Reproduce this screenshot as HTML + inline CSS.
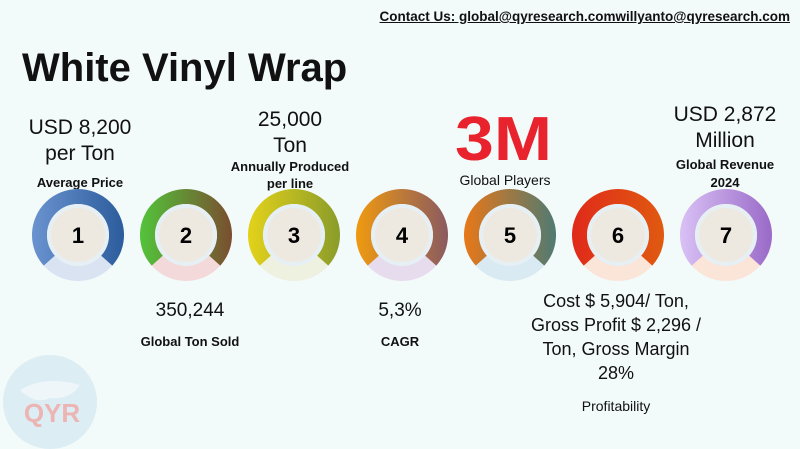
<!DOCTYPE html>
<html><head><meta charset="utf-8"><style>
html,body{margin:0;padding:0}
body{width:800px;height:449px;background:#f3fafa;position:relative;overflow:hidden;font-family:"Liberation Sans",Arial,sans-serif;color:#111}
.t{position:absolute;text-align:center;white-space:nowrap}
.b{font-weight:bold}
</style></head><body>
<svg style="position:absolute;left:0;top:350px" width="110" height="99">
<circle cx="50" cy="52" r="47" fill="#d6eaf3" opacity="0.8"/>
<path d="M20 40 Q45 25 80 35 Q70 50 50 48 Q35 55 20 40Z" fill="#eef6fa"/>
<text x="52" y="72" text-anchor="middle" font-family="Liberation Sans" font-weight="bold" font-size="26" fill="#f0a8a4" opacity="0.8">QYR</text>
</svg>
<div class="t b" style="right:10px;top:9px;font-size:13.5px;text-decoration:underline">Contact Us: global@qyresearch.comwillyanto@qyresearch.com</div>
<div class="t b" style="left:22px;top:46px;font-size:40px">White Vinyl Wrap</div>

<div class="t" style="left:10px;width:140px;top:115px;font-size:21px;line-height:26px">USD 8,200<br>per Ton</div>
<div class="t b" style="left:10px;width:140px;top:175px;font-size:13px">Average Price</div>

<div class="t" style="left:220px;width:140px;top:107px;font-size:21px;line-height:26px">25,000<br>Ton</div>
<div class="t b" style="left:210px;width:160px;top:158px;font-size:13px;line-height:17px">Annually Produced<br>per line</div>

<svg style="position:absolute;left:455px;top:108px" width="100" height="56">
<text x="0" y="52" textLength="97" lengthAdjust="spacingAndGlyphs" font-family="Liberation Sans" font-weight="bold" font-size="62" fill="#e8232d">3M</text>
</svg>
<div class="t" style="left:440px;width:130px;top:172px;font-size:14px">Global Players</div>

<div class="t" style="left:640px;width:170px;top:102px;font-size:21px;line-height:26px">USD 2,872<br>Million</div>
<div class="t b" style="left:640px;width:170px;top:156px;font-size:13px;line-height:18px">Global Revenue<br>2024</div>

<svg id="rings" style="position:absolute;left:0;top:0" width="800" height="449"></svg>

<div class="t" style="left:120px;width:140px;top:300px;font-size:19px">350,244</div>
<div class="t b" style="left:120px;width:140px;top:334px;font-size:13px">Global Ton Sold</div>
<div class="t" style="left:340px;width:120px;top:300px;font-size:19px">5,3%</div>
<div class="t b" style="left:340px;width:120px;top:334px;font-size:13px">CAGR</div>
<div class="t" style="left:506px;width:220px;top:289px;font-size:18px;line-height:24px">Cost $ 5,904/ Ton,<br>Gross Profit $ 2,296 /<br>Ton, Gross Margin<br>28%</div>
<div class="t" style="left:556px;width:120px;top:398px;font-size:14px">Profitability</div>

<script>
const steps=["1","2","3","4","5","6","7"];
const colA=["#6a93cf","#52c43a","#e3d21a","#f09a10","#e87818","#e02a1a","#d9c1f5"];
const colB=["#2c5c9c","#7a4e30","#8a9c2a","#8a5a60","#4f7a72","#e05a10","#9a6ac8"];
const capCol=["#d9e3f2","#f3d9d9","#eef0e0","#e6dcee","#d9eaf2","#fbe4d8","#fbe4d8"];
const svg=document.getElementById('rings');
const NS="http://www.w3.org/2000/svg";
const x0=78,dx=108,cy=235,R=46,r=31;
function pt(a,rad,cx){return [cx+rad*Math.sin(a),cy-rad*Math.cos(a)];}
const defs=document.createElementNS(NS,'defs');svg.appendChild(defs);
steps.forEach((s,i)=>{
 const cx=x0+i*dx;
 const g=document.createElementNS(NS,'linearGradient');g.id='g'+i;
 g.innerHTML=`<stop offset="0" stop-color="${colA[i]}"/><stop offset="1" stop-color="${colB[i]}"/>`;
 defs.appendChild(g);
 const grp=document.createElementNS(NS,'g');
 
 
 const cap=document.createElementNS(NS,'circle');
 cap.setAttribute('cx',cx);cap.setAttribute('cy',cy);cap.setAttribute('r',R);cap.setAttribute('fill',capCol[i]);
 grp.appendChild(cap);
 const a1=-2.3,a2=2.3;
 const p1=pt(a1,R,cx),p2=pt(a2,R,cx),p3=pt(a2,r,cx),p4=pt(a1,r,cx);
 const arc=document.createElementNS(NS,'path');
 arc.setAttribute('d',`M${p1} A${R} ${R} 0 1 1 ${p2} L${p3} A${r} ${r} 0 1 0 ${p4}Z`);
 arc.setAttribute('fill',`url(#g${i})`);
 grp.appendChild(arc);
 const inner=document.createElementNS(NS,'circle');
 inner.setAttribute('cx',cx);inner.setAttribute('cy',cy);inner.setAttribute('r',r-2);
 inner.setAttribute('fill','#eee9e0');inner.setAttribute('stroke','#e6f0f4');inner.setAttribute('stroke-width','4');
 grp.appendChild(inner);
 const t=document.createElementNS(NS,'text');
 t.setAttribute('x',cx);t.setAttribute('y',cy+8);t.setAttribute('text-anchor','middle');
 t.setAttribute('font-family','Liberation Sans');t.setAttribute('font-weight','bold');t.setAttribute('font-size','22');
 t.textContent=s;grp.appendChild(t);
 svg.appendChild(grp);
});
</script>
</body></html>
